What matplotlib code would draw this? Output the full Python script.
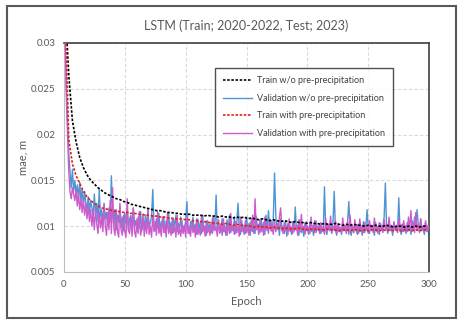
import numpy as np
import matplotlib.pyplot as plt
from matplotlib.patches import Rectangle

plt.rcParams['font.family'] = ['Lato', 'DejaVu Sans']

# train curves, sampled every 3 epochs
train_epochs = list(range(1, 301, 3))
train_wo = [
    0.0340, 0.0265, 0.0215, 0.0192, 0.0175, 0.0164, 0.0156, 0.0150, 0.0146, 0.0142,
    0.0139, 0.0136, 0.0134, 0.0132, 0.0130, 0.0129, 0.0127, 0.0126, 0.0124, 0.0123,
    0.0122, 0.0121, 0.0120, 0.0119, 0.0118, 0.0117, 0.0117, 0.0116, 0.0115, 0.0115,
    0.0114, 0.0114, 0.0113, 0.0113, 0.0113, 0.0112, 0.0112, 0.0112, 0.0111, 0.0112,
    0.0111, 0.0111, 0.0110, 0.0111, 0.0110, 0.0110, 0.0109, 0.0110, 0.0109, 0.0110,
    0.0108, 0.0109, 0.0108, 0.0107, 0.0108, 0.0107, 0.0106, 0.0107, 0.0106, 0.0105,
    0.0106, 0.0105, 0.0104, 0.0105, 0.0104, 0.0104, 0.0103, 0.0104, 0.0103, 0.0103,
    0.0102, 0.0103, 0.0102, 0.0102, 0.0103, 0.0102, 0.0101, 0.0102, 0.0101, 0.0102,
    0.0101, 0.0101, 0.0100, 0.0101, 0.0100, 0.0101, 0.0100, 0.0100, 0.0101, 0.0100,
    0.0099, 0.0100, 0.0100, 0.0099, 0.0100, 0.0099, 0.0100, 0.0099, 0.0100, 0.0100,
]
train_with = [
    0.0340, 0.0195, 0.0168, 0.0155, 0.0147, 0.0138, 0.0132, 0.0128, 0.0125, 0.0122,
    0.0120, 0.0119, 0.0118, 0.0117, 0.0116, 0.0116, 0.0115, 0.0115, 0.0114, 0.0114,
    0.0113, 0.0113, 0.0112, 0.0112, 0.0111, 0.0111, 0.0110, 0.0110, 0.0109, 0.0109,
    0.0108, 0.0108, 0.0108, 0.0107, 0.0107, 0.0106, 0.0106, 0.0105, 0.0105, 0.0104,
    0.0104, 0.0103, 0.0103, 0.0102, 0.0103, 0.0102, 0.0101, 0.0102, 0.0101, 0.0101,
    0.0100, 0.0100, 0.0099, 0.0100, 0.0099, 0.0099, 0.0098, 0.0099, 0.0098, 0.0098,
    0.0097, 0.0098, 0.0097, 0.0097, 0.0098, 0.0097, 0.0096, 0.0097, 0.0096, 0.0097,
    0.0096, 0.0096, 0.0097, 0.0096, 0.0096, 0.0095, 0.0096, 0.0096, 0.0095, 0.0096,
    0.0096, 0.0095, 0.0096, 0.0095, 0.0096, 0.0096, 0.0095, 0.0096, 0.0095, 0.0096,
    0.0095, 0.0096, 0.0095, 0.0096, 0.0096, 0.0095, 0.0096, 0.0095, 0.0096, 0.0096,
]

# validation curves, every epoch 1..300
val_epochs = list(range(1, 301))
val_wo = [
    0.0300, 0.0255, 0.0215, 0.0180, 0.0160, 0.0142, 0.0162, 0.0138, 0.0150, 0.0135,
    0.0145, 0.0130, 0.0148, 0.0128, 0.0140, 0.0122, 0.0138, 0.0125, 0.0118, 0.0132,
    0.0115, 0.0128, 0.0120, 0.0110, 0.0135, 0.0112, 0.0125, 0.0105, 0.0140, 0.0110,
    0.0118, 0.0102, 0.0125, 0.0108, 0.0115, 0.0100, 0.0120, 0.0105, 0.0155, 0.0112,
    0.0100, 0.0118, 0.0096, 0.0112, 0.0104, 0.0122, 0.0098, 0.0110, 0.0095, 0.0115,
    0.0102, 0.0118, 0.0096, 0.0108, 0.0112, 0.0098, 0.0120, 0.0100, 0.0106, 0.0094,
    0.0110, 0.0098, 0.0116, 0.0095, 0.0105, 0.0100, 0.0112, 0.0096, 0.0118, 0.0099,
    0.0104, 0.0110, 0.0140, 0.0100, 0.0095, 0.0108, 0.0098, 0.0114, 0.0094, 0.0105,
    0.0100, 0.0110, 0.0093, 0.0106, 0.0098, 0.0115, 0.0096, 0.0104, 0.0092, 0.0108,
    0.0099, 0.0112, 0.0094, 0.0103, 0.0097, 0.0110, 0.0093, 0.0100, 0.0096, 0.0106,
    0.0127, 0.0098, 0.0092, 0.0105, 0.0097, 0.0110, 0.0094, 0.0102, 0.0091, 0.0108,
    0.0096, 0.0104, 0.0092, 0.0112, 0.0095, 0.0100, 0.0090, 0.0106, 0.0097, 0.0102,
    0.0093, 0.0109, 0.0096, 0.0100, 0.0134, 0.0095, 0.0104, 0.0092, 0.0099, 0.0108,
    0.0094, 0.0101, 0.0090, 0.0107, 0.0096, 0.0112, 0.0093, 0.0100, 0.0095, 0.0110,
    0.0092, 0.0104, 0.0125, 0.0097, 0.0091, 0.0106, 0.0095, 0.0101, 0.0092, 0.0110,
    0.0096, 0.0103, 0.0090, 0.0108, 0.0094, 0.0100, 0.0092, 0.0111, 0.0097, 0.0102,
    0.0093, 0.0108, 0.0096, 0.0104, 0.0091, 0.0112, 0.0095, 0.0117, 0.0099, 0.0106,
    0.0094, 0.0110, 0.0158, 0.0112, 0.0096, 0.0104, 0.0090, 0.0108, 0.0095, 0.0100,
    0.0092, 0.0106, 0.0089, 0.0103, 0.0095, 0.0099, 0.0091, 0.0105, 0.0094, 0.0121,
    0.0096, 0.0101, 0.0090, 0.0107, 0.0093, 0.0099, 0.0089, 0.0104, 0.0095, 0.0100,
    0.0091, 0.0103, 0.0094, 0.0098, 0.0090, 0.0106, 0.0093, 0.0100, 0.0095, 0.0102,
    0.0092, 0.0098, 0.0094, 0.0143, 0.0097, 0.0091, 0.0102, 0.0095, 0.0099, 0.0092,
    0.0105, 0.0138, 0.0096, 0.0090, 0.0101, 0.0094, 0.0098, 0.0091, 0.0104, 0.0095,
    0.0099, 0.0092, 0.0106, 0.0127, 0.0095, 0.0090, 0.0100, 0.0093, 0.0103, 0.0096,
    0.0091, 0.0102, 0.0094, 0.0099, 0.0090, 0.0105, 0.0093, 0.0100, 0.0118, 0.0096,
    0.0092, 0.0101, 0.0095, 0.0098, 0.0090, 0.0104, 0.0094, 0.0099, 0.0091, 0.0103,
    0.0096, 0.0100, 0.0110, 0.0147, 0.0098, 0.0092, 0.0103, 0.0095, 0.0099, 0.0090,
    0.0104, 0.0096, 0.0101, 0.0093, 0.0131, 0.0097, 0.0091, 0.0102, 0.0094, 0.0099,
    0.0092, 0.0104, 0.0095, 0.0100, 0.0091, 0.0106, 0.0096, 0.0110, 0.0099, 0.0118,
    0.0102, 0.0093, 0.0108, 0.0095, 0.0100, 0.0091, 0.0104, 0.0094, 0.0098, 0.0088,
]
val_with = [
    0.0300, 0.0240, 0.0200, 0.0160, 0.0138, 0.0130, 0.0142, 0.0135, 0.0128, 0.0140,
    0.0122, 0.0136, 0.0118, 0.0130, 0.0115, 0.0128, 0.0112, 0.0125, 0.0108, 0.0122,
    0.0105, 0.0118, 0.0100, 0.0115, 0.0096, 0.0120, 0.0102, 0.0092, 0.0116, 0.0098,
    0.0110, 0.0094, 0.0124, 0.0100, 0.0090, 0.0115, 0.0096, 0.0128, 0.0092, 0.0142,
    0.0098, 0.0090, 0.0118, 0.0094, 0.0088, 0.0125, 0.0096, 0.0090, 0.0112, 0.0094,
    0.0088, 0.0130, 0.0095, 0.0092, 0.0110, 0.0089, 0.0120, 0.0094, 0.0088, 0.0108,
    0.0092, 0.0116, 0.0090, 0.0098, 0.0113, 0.0089, 0.0104, 0.0092, 0.0118, 0.0091,
    0.0100, 0.0088, 0.0112, 0.0094, 0.0105, 0.0090, 0.0116, 0.0092, 0.0099, 0.0089,
    0.0110, 0.0093, 0.0102, 0.0088, 0.0114, 0.0092, 0.0098, 0.0090, 0.0108, 0.0093,
    0.0100, 0.0088, 0.0112, 0.0091, 0.0097, 0.0089, 0.0106, 0.0092, 0.0101, 0.0088,
    0.0110, 0.0092, 0.0099, 0.0089, 0.0105, 0.0093, 0.0100, 0.0088, 0.0108, 0.0091,
    0.0097, 0.0090, 0.0112, 0.0094, 0.0100, 0.0089, 0.0106, 0.0093, 0.0098, 0.0090,
    0.0104, 0.0092, 0.0110, 0.0095, 0.0099, 0.0089, 0.0107, 0.0093, 0.0101, 0.0090,
    0.0108, 0.0094, 0.0098, 0.0090, 0.0103, 0.0092, 0.0114, 0.0095, 0.0099, 0.0091,
    0.0105, 0.0093, 0.0100, 0.0089, 0.0110, 0.0094, 0.0098, 0.0091, 0.0106, 0.0093,
    0.0099, 0.0090, 0.0104, 0.0095, 0.0112, 0.0092, 0.0130, 0.0096, 0.0101, 0.0091,
    0.0107, 0.0094, 0.0099, 0.0090, 0.0110, 0.0096, 0.0103, 0.0092, 0.0108, 0.0095,
    0.0100, 0.0091, 0.0106, 0.0094, 0.0102, 0.0096, 0.0110, 0.0120, 0.0098, 0.0092,
    0.0104, 0.0095, 0.0100, 0.0091, 0.0108, 0.0094, 0.0099, 0.0092, 0.0105, 0.0096,
    0.0101, 0.0090, 0.0107, 0.0094, 0.0113, 0.0096, 0.0100, 0.0091, 0.0105, 0.0095,
    0.0099, 0.0092, 0.0110, 0.0095, 0.0101, 0.0093, 0.0106, 0.0096, 0.0100, 0.0092,
    0.0104, 0.0095, 0.0099, 0.0091, 0.0108, 0.0094, 0.0102, 0.0097, 0.0111, 0.0093,
    0.0100, 0.0095, 0.0106, 0.0092, 0.0103, 0.0096, 0.0099, 0.0093, 0.0109, 0.0095,
    0.0101, 0.0094, 0.0105, 0.0091, 0.0112, 0.0096, 0.0100, 0.0093, 0.0107, 0.0095,
    0.0102, 0.0092, 0.0108, 0.0096, 0.0100, 0.0093, 0.0104, 0.0095, 0.0099, 0.0092,
    0.0106, 0.0096, 0.0101, 0.0093, 0.0109, 0.0095, 0.0100, 0.0092, 0.0104, 0.0097,
    0.0100, 0.0093, 0.0107, 0.0096, 0.0102, 0.0094, 0.0110, 0.0097, 0.0101, 0.0093,
    0.0105, 0.0096, 0.0100, 0.0093, 0.0108, 0.0095, 0.0102, 0.0094, 0.0106, 0.0097,
    0.0101, 0.0094, 0.0110, 0.0096, 0.0117, 0.0095, 0.0104, 0.0093, 0.0115, 0.0096,
    0.0102, 0.0094, 0.0108, 0.0097, 0.0100, 0.0093, 0.0106, 0.0096, 0.0101, 0.0095,
]

x_ticks = [0, 50, 100, 150, 200, 250, 300]
y_ticks = [0.005, 0.01, 0.015, 0.02, 0.025, 0.03]
y_tick_labels = ['0.005', '0.01', '0.015', '0.02', '0.025', '0.03']

grey = '#595959'

fig = plt.figure(figsize=(4.63, 3.23), dpi=100)
ax = fig.add_axes([0.138, 0.158, 0.789, 0.709])

ax.plot(train_epochs, train_wo, color='black', lw=1.2, ls=(0, (1.5, 1)),
        label='Train w/o pre-precipitation', zorder=4)
ax.plot(val_epochs, val_wo, color='#4F94D4', lw=1.0,
        label='Validation w/o pre-precipitation', zorder=2)
ax.plot(train_epochs, train_with, color='#E0201C', lw=1.2, ls=(0, (1.5, 1)),
        label='Train with pre-precipitation', zorder=4)
ax.plot(val_epochs, val_with, color='#CC5CCB', lw=1.0,
        label='Validation with pre-precipitation', zorder=3)

ax.set_xlim(0, 300)
ax.set_ylim(0.005, 0.03)
ax.set_xticks(x_ticks)
ax.set_yticks(y_ticks)
ax.set_yticklabels(y_tick_labels)
ax.tick_params(length=0, labelsize=7, colors=grey, pad=6)
ax.grid(True, ls=(0, (3, 2)), color='#D9D9D9', lw=0.8)
ax.set_axisbelow(True)
for s in ['left', 'bottom']:
    ax.spines[s].set_color('#BFBFBF')
for s in ['top', 'right']:
    ax.spines[s].set_color('#404040')
    ax.spines[s].set_linewidth(1.2)

ax.set_title('LSTM (Train; 2020-2022, Test; 2023)', fontsize=9, color=grey, pad=9)
ax.set_xlabel('Epoch', fontsize=8, color=grey, labelpad=5)
ax.set_ylabel('mae, m', fontsize=8, color=grey, labelpad=2)

leg = ax.legend(loc='upper left', bbox_to_anchor=(0.4, 0.91), fontsize=6.5,
                frameon=True, fancybox=False, edgecolor='#262626', handlelength=3.3,
                labelspacing=0.95, borderpad=0.9, handletextpad=0.5)
leg.get_frame().set_linewidth(1.0)
for t in leg.get_texts():
    t.set_color('#404040')

fig.patches.append(Rectangle((0.015, 0.016), 0.969, 0.966, transform=fig.transFigure,
                             fill=False, edgecolor='#595959', lw=1.5))

fig.savefig('out.png', dpi=100)
